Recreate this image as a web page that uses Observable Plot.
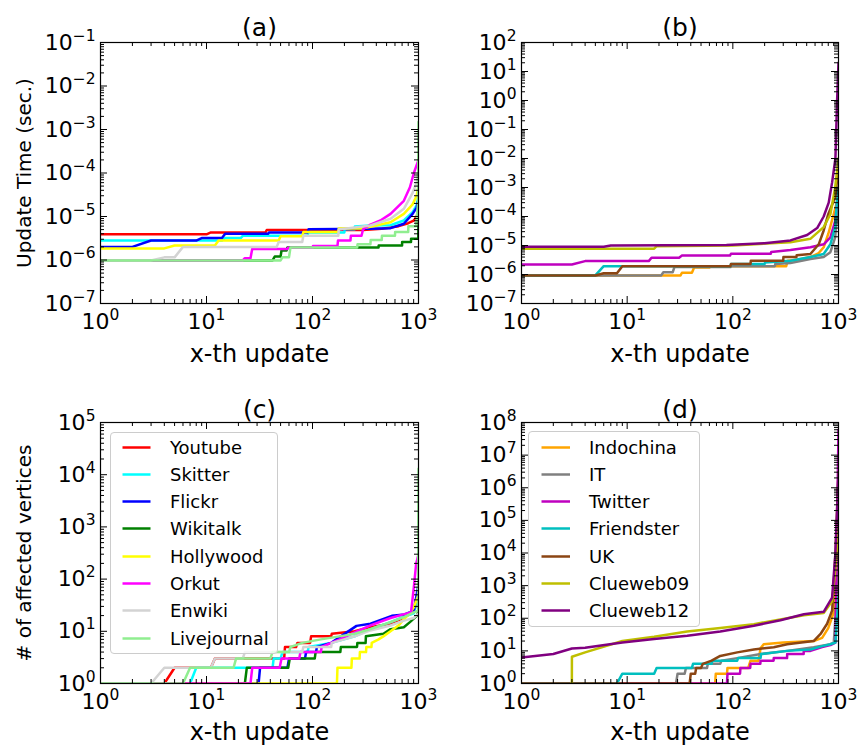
<!DOCTYPE html>
<html><head><meta charset="utf-8">
<script src="https://cdn.jsdelivr.net/npm/d3@7"></script>
<script src="https://cdn.jsdelivr.net/npm/@observablehq/plot@0.6"></script>
<style>
body{margin:0;background:#fff;}
#fig{position:relative;width:859px;height:746px;font-family:"DejaVu Sans",sans-serif;overflow:hidden;}
#fig svg.panel{position:absolute;}
.legend{position:absolute;border:1px solid #cccccc;border-radius:4px;background:rgba(255,255,255,0.8);box-sizing:border-box;font-family:"DejaVu Sans",sans-serif;font-size:18px;color:#000;}
.legend .row{position:absolute;left:0;height:27px;line-height:27px;white-space:nowrap;}
.legend .row svg{position:absolute;top:0;}
.legend .row span{position:absolute;top:0;}
</style></head>
<body><div id="fig"></div>
<script>
// ---------------- data: (a) update time, small graphs ----------------
const smallNames  = ["Youtube","Skitter","Flickr","Wikitalk","Hollywood","Orkut","Enwiki","Livejournal"];
const smallColors = ["#ff0000","#00ffff","#0000ff","#008000","#ffff00","#ff00ff","#d3d3d3","#90ee90"];
const timeYoutube = [[1,3.9e-6],[10,3.9e-6],[11,4.3e-6],[36,4.3e-6],[37,4.9e-6],[300,4.9e-6],[450,5.2e-6],[650,6e-6],[800,7e-6],[900,8e-6],[960,1e-5],[990,1.3e-5],[1000,1.8e-5]];
const timeSkitter = [[1,2.8e-6],[14,2.8e-6],[15,3.2e-6],[21,3.2e-6],[22,3.6e-6],[90,3.6e-6],[91,4.3e-6],[200,4.3e-6],[201,5.1e-6],[250,5.1e-6],[251,5.9e-6],[352,6.2e-6],[545,6.3e-6],[727,8.1e-6],[880,1.26e-5],[960,1.8e-5],[1000,3e-5]];
const timeFlickr = [[1,2.0e-6],[2,2.0e-6],[3,2.8e-6],[8,2.8e-6],[9,3.2e-6],[14,3.2e-6],[15,4.0e-6],[38,4.0e-6],[39,4.3e-6],[90,4.3e-6],[92,5.1e-6],[352,5.2e-6],[545,5.4e-6],[727,6.8e-6],[880,1.15e-5],[960,1.6e-5],[1000,2.5e-5]];
const timeWikitalk = [[1,9.8e-7],[42,9.8e-7],[44,1.2e-6],[50,1.2e-6],[51,1.65e-6],[57,1.65e-6],[58,1.95e-6],[420,1.95e-6],[421,2.15e-6],[700,2.15e-6],[701,2.6e-6],[850,2.6e-6],[851,3.1e-6],[995,3.1e-6],[1000,1e-5]];
const timeHollywood = [[1,1.85e-6],[4,1.85e-6],[5,2.15e-6],[12,2.15e-6],[13,2.8e-6],[48,2.8e-6],[50,3.5e-6],[80,3.5e-6],[82,4.4e-6],[175,4.4e-6],[177,5.3e-6],[290,5.3e-6],[352,5.8e-6],[545,7.4e-6],[727,1.15e-5],[880,1.9e-5],[960,3e-5],[1000,5e-5]];
const timeOrkut = [[1,9.8e-7],[22,9.8e-7],[23,1.1e-6],[26,1.1e-6],[27,1.8e-6],[58,1.8e-6],[59,1.9e-6],[100,1.9e-6],[101,2.1e-6],[172,2.1e-6],[174,2.8e-6],[228,2.8e-6],[230,3.6e-6],[290,3.6e-6],[300,5.1e-6],[352,6.5e-6],[437,8.1e-6],[545,1.15e-5],[727,2.3e-5],[830,4.7e-5],[904,1e-4],[1000,2e-4]];
const timeEnwiki = [[1,9.8e-7],[3,9.8e-7],[4,1.15e-6],[5,1.15e-6],[6,2.0e-6],[46,2.0e-6],[48,2.6e-6],[80,2.6e-6],[82,3.6e-6],[175,3.6e-6],[177,5e-6],[352,6.2e-6],[545,8.9e-6],[727,1.5e-5],[870,3.3e-5],[960,6e-5],[1000,1e-4]];
const timeLivejournal = [[1,9.8e-7],[50,9.8e-7],[52,1.15e-6],[60,1.15e-6],[62,1.95e-6],[264,1.95e-6],[266,2.3e-6],[352,2.3e-6],[354,2.9e-6],[450,2.9e-6],[452,3.6e-6],[600,3.6e-6],[602,4.4e-6],[800,4.4e-6],[802,6e-6],[950,6e-6],[990,2e-5],[1000,1.5e-3]];

// ---------------- data: (b) update time, large graphs ----------------
const largeNames  = ["Indochina","IT","Twitter","Friendster","UK","Clueweb09","Clueweb12"];
const largeColors = ["#ffa500","#808080","#bf00bf","#00bfbf","#8b4513","#bfbf00","#800080"];
const timeIndochina = [[1,9.3e-7],[32,9.3e-7],[33,1.15e-6],[41,1.15e-6],[43,1.75e-6],[60,1.75e-6],[62,1.94e-6],[320,1.94e-6],[330,3e-6],[400,3.2e-6],[542,4e-6],[650,5.5e-6],[724,8.7e-6],[800,2.5e-5],[901,1.2e-4],[1000,5e-4]];
const timeIT = [[1,9.3e-7],[21,9.3e-7],[22,1.2e-6],[27,1.2e-6],[28,1.8e-6],[95,1.8e-6],[96,1.94e-6],[250,1.94e-6],[252,2.3e-6],[351,2.5e-6],[542,3.4e-6],[724,4e-6],[838,5.9e-6],[930,1.9e-5],[1000,5e-4]];
const timeTwitter = [[1,2.2e-6],[3,2.2e-6],[4,2.9e-6],[16,2.9e-6],[17,3.8e-6],[31,3.8e-6],[33,4.5e-6],[94,4.5e-6],[96,5.2e-6],[228,5.2e-6],[231,6e-6],[351,7e-6],[542,8.7e-6],[724,1.1e-5],[838,1.9e-5],[930,7e-5],[1000,1e-3]];
const timeFriendster = [[1,9.3e-7],[5,9.3e-7],[6,1.94e-6],[95,1.94e-6],[96,2.3e-6],[200,2.3e-6],[202,2.6e-6],[351,3e-6],[542,4e-6],[724,5.1e-6],[838,1.1e-5],[930,4.3e-5],[970,4e-4],[1000,1e-3]];
const timeUK = [[1,9.3e-7],[5,9.3e-7],[6,1.1e-6],[8,1.1e-6],[9,1.94e-6],[95,1.94e-6],[96,2.3e-6],[147,2.3e-6],[148,3e-6],[300,3e-6],[301,4e-6],[400,4e-6],[402,4.6e-6],[542,5.1e-6],[650,1.1e-5],[724,3.3e-5],[800,1.2e-4],[930,4.6e-4],[1000,5e-3]];
const timeClueweb09 = [[1,7.8e-6],[18,7.8e-6],[19,9.5e-6],[100,1e-5],[351,1.3e-5],[542,1.7e-5],[724,4.3e-5],[838,1.2e-4],[930,1e-3],[1000,1e-2]];
const timeClueweb12 = [[1,9e-6],[6,9e-6],[7,1e-5],[87,1.05e-5],[200,1.2e-5],[351,1.5e-5],[505,2.3e-5],[628,4e-5],[724,1e-4],[808,3e-4],[870,1.5e-3],[935,1e-2],[970,1],[1000,20]];

// ---------------- data: (c) affected vertices, small graphs ----------------
const cntYoutube = [[1,1],[4,1],[5,2],[11,2],[12,3],[54,3],[55,5],[70,5],[72,6],[95,6],[97,8],[150,8],[152,9],[250,10],[350,12],[545,14],[727,18],[904,25],[1000,40]];
const cntSkitter = [[1,1],[7,1],[8,2],[42,2],[43,3],[50,3],[52,4],[90,4],[92,5],[150,6],[250,8],[352,11],[545,15],[727,19],[904,22],[1000,60]];
const cntFlickr = [[1,1],[31,1],[32,2],[58,2],[60,3],[85,3],[87,4],[108,4],[110,5],[150,6],[260,12.7],[352,14],[560,19.8],[740,21],[904,25],[1000,80]];
const cntWikitalk = [[1,1],[23,1],[24,2],[59,2],[61,3],[105,3],[107,4],[183,4],[185,5],[263,5],[265,6],[317,6],[319,8],[466,9],[545,11],[727,12],[830,15],[970,20],[1000,25]];
const cntHollywood = [[1,1],[170,1],[172,2],[233,2],[235,3],[278,3],[280,4],[320,4],[322,5],[360,5],[362,6],[420,7],[466,8],[545,10],[650,13],[727,17],[830,22],[904,29],[1000,50]];
const cntOrkut = [[1,1],[26,1],[27,2],[49,2],[51,3],[75,3],[77,4],[120,4],[122,5],[180,7],[263,10],[352,13],[545,18],[750,21.6],[850,23],[904,70],[950,196],[1000,300]];
const cntEnwiki = [[1,1],[3,1],[4,2],[11,2],[12,3],[22,3],[23,4],[80,4],[82,5],[150,5],[152,6],[250,8],[352,10.4],[545,12.9],[727,16],[904,18],[1000,22]];
const cntLivejournal = [[1,1],[6,1],[7,2],[18,2],[19,3],[40,3],[42,4],[60,4],[62,5],[80,6],[120,7],[180,8],[250,9],[352,11],[545,15],[727,18.7],[904,23],[990,25],[1000,1.3e4]];

// ---------------- data: (d) affected vertices, large graphs (0 = no vertex) ----------------
const cntIndochina = [[1,1],[68,1],[69,2],[88,2],[89,3],[140,3],[147,5],[175,5],[183,12],[196,16],[300,18],[582,20],[700,25],[800,50],[900,150],[950,1e4],[1000,1e5]];
const cntIT = [[1,1],[29,1],[30,2],[35,2],[36,3],[57,3],[58,4],[76,4],[78,5],[110,6],[183,8],[327,10],[582,13],[839,16],[902,18],[935,100],[1000,1e4]];
const cntTwitter = [[1,1],[88,1],[89,2],[117,2],[118,3],[146,3],[147,4],[182,4],[183,5],[243,5],[244,6],[326,6],[327,8],[468,8],[469,10],[543,10],[700,13],[839,15],[935,18],[1000,6e7]];
const cntFriendster = [[1,1],[8,1],[9,2],[18,2],[19,3],[41,3],[42,4],[63,4],[64,5],[110,5],[112,6],[183,6],[185,8],[327,10],[543,11],[700,14],[839,16],[935,18],[1000,500]];
const cntUK = [[1,1],[39,1],[40,2],[44,2],[45,3],[50,3],[52,4],[63,5],[76,7],[110,9],[158,11],[244,13],[327,16],[582,20],[676,33],[780,68],[871,174],[935,9000],[1000,3e6]];
const cntClueweb09 = [[1,0],[2,0],[3,6.6],[4,9],[9,20],[18,27],[37,39],[76,50],[158,66],[327,100],[470,124],[724,145],[871,340],[935,3500],[1000,6e4]];
const cntClueweb12 = [[1,6.3],[2,8],[3,11.8],[4,12.5],[9,18],[18,23],[37,29],[76,39],[158,59],[282,87],[470,133],[724,158],[870,430],[935,1e4],[1000,3e6]];

// ---------------- axis / text ----------------
const xExps = [0,1,2,3];
const yExpsA = [-7,-6,-5,-4,-3,-2,-1];
const yExpsB = [-7,-6,-5,-4,-3,-2,-1,0,1,2];
const yExpsC = [0,1,2,3,4,5];
const yExpsD = [0,1,2,3,4,5,6,7,8];
const panelTitles = ["(a)","(b)","(c)","(d)"];
const xLabel = "x-th update";
const yLabelTime = "Update Time (sec.)";
const yLabelCount = "# of affected vertices";

function pow10Label(v){return "10^"+Math.round(Math.log10(v));}
function majors(exps){return exps.map(e=>Math.pow(10,e));}
function minors(exps){const out=[];for(let i=0;i<exps.length-1;i++){for(let m=2;m<=9;m++)out.push(m*Math.pow(10,exps[i]));}return out;}

const fig = document.getElementById("fig");
const SVGNS = "http://www.w3.org/2000/svg";

function superscriptLabels(svg){
  svg.querySelectorAll("text").forEach(t=>{
    const m = /^10\^(-?\d+)$/.exec(t.textContent);
    if (!m) return;
    t.textContent = "10";
    const ts = document.createElementNS(SVGNS,"tspan");
    ts.setAttribute("dy","-9");
    ts.setAttribute("font-size","15.5");
    ts.textContent = m[1].replace("-","\u2212");
    t.appendChild(ts);
  });
}

function panel(cfg){
  const H = 373;
  const fw = cfg.width - cfg.ml - cfg.mr, fh = H - cfg.mt - cfg.mb;
  const rows = [];
  cfg.series.forEach((arr,i)=>arr.forEach(([x,y])=>rows.push({name:cfg.names[i], x, y: y>0 ? y : 1e-300})));
  const xMaj = majors(xExps), xMin = minors(xExps);
  const yMaj = majors(cfg.yExps), yMin = minors(cfg.yExps);
  const tk = {stroke:"#000", strokeWidth:1};
  const marks = [
    Plot.line(rows,{x:"x",y:"y",z:"name",stroke:"name",strokeWidth:2.5,strokeLinejoin:"round",clip:true}),
    Plot.ruleX(xMaj,{x:d=>d,insetTop:fh-7,...tk}),
    Plot.ruleX(xMaj,{x:d=>d,insetBottom:fh-7,...tk}),
    Plot.ruleX(xMin,{x:d=>d,insetTop:fh-4,...tk}),
    Plot.ruleX(xMin,{x:d=>d,insetBottom:fh-4,...tk}),
    Plot.ruleY(yMaj,{y:d=>d,insetRight:fw-7,...tk}),
    Plot.ruleY(yMaj,{y:d=>d,insetLeft:fw-7,...tk}),
    Plot.ruleY(yMin,{y:d=>d,insetRight:fw-4,...tk}),
    Plot.ruleY(yMin,{y:d=>d,insetLeft:fw-4,...tk}),
    Plot.frame({stroke:"#000",strokeWidth:1.2}),
    Plot.axisX({ticks:xMaj,tickFormat:pow10Label,tickSize:0,tickPadding:10,fontSize:22,label:null,anchor:"bottom"}),
    Plot.axisY({ticks:yMaj,tickFormat:pow10Label,tickSize:0,tickPadding:5,fontSize:22,label:null,anchor:"left"}),
    Plot.text([cfg.title],{text:d=>d,frameAnchor:"top",lineAnchor:"middle",textAnchor:"middle",dy:cfg.titleDy,fontSize:25}),
    Plot.text([xLabel],{text:d=>d,frameAnchor:"bottom",lineAnchor:"middle",textAnchor:"middle",dy:cfg.xlabDy,fontSize:24})
  ];
  if (cfg.ylabel) marks.push(Plot.text([cfg.ylabel],{text:d=>d,frameAnchor:"left",lineAnchor:"middle",textAnchor:"middle",rotate:-90,dx:24-cfg.ml,fontSize:20}));
  const svg = Plot.plot({
    width:cfg.width, height:H,
    marginLeft:cfg.ml, marginRight:cfg.mr, marginTop:cfg.mt, marginBottom:cfg.mb,
    x:{type:"log",domain:[xMaj[0],xMaj[xMaj.length-1]]},
    y:{type:"log",domain:[yMaj[0],yMaj[yMaj.length-1]]},
    color:{domain:cfg.names,range:cfg.colors},
    style:{fontFamily:"DejaVu Sans",fontSize:"22px",overflow:"visible",background:"transparent",color:"#000"},
    marks
  });
  superscriptLabels(svg);
  svg.classList.add("panel");
  svg.style.left = cfg.left+"px";
  svg.style.top = cfg.top+"px";
  fig.appendChild(svg);
}

function legend(names, colors, box){
  const div = document.createElement("div");
  div.className = "legend";
  Object.assign(div.style,{left:box.left+"px",top:box.top+"px",width:box.width+"px",height:box.height+"px"});
  names.forEach((n,i)=>{
    const row = document.createElement("div");
    row.className = "row";
    row.style.top = (box.first - 13.5 + 27.3*i)+"px";
    row.style.width = box.width+"px";
    row.innerHTML = `<svg width="${box.lineX2+2}" height="27" style="left:0"><line x1="${box.lineX1}" x2="${box.lineX2}" y1="13.5" y2="13.5" stroke="${colors[i]}" stroke-width="2.5"/></svg><span style="left:${box.textX}px">${n}</span>`;
    div.appendChild(row);
  });
  fig.appendChild(div);
}

panel({left:0,top:0,width:430,ml:100,mr:12,mt:42,mb:70,yExps:yExpsA,names:smallNames,colors:smallColors,
  series:[timeYoutube,timeSkitter,timeFlickr,timeWikitalk,timeHollywood,timeOrkut,timeEnwiki,timeLivejournal],
  title:panelTitles[0],titleDy:-15,xlabDy:51,ylabel:yLabelTime});
panel({left:430,top:0,width:429,ml:91,mr:21,mt:42,mb:70,yExps:yExpsB,names:largeNames,colors:largeColors,
  series:[timeIndochina,timeIT,timeTwitter,timeFriendster,timeUK,timeClueweb09,timeClueweb12],
  title:panelTitles[1],titleDy:-15,xlabDy:51,ylabel:null});
panel({left:0,top:373,width:430,ml:100,mr:12,mt:49,mb:63,yExps:yExpsC,names:smallNames,colors:smallColors,
  series:[cntYoutube,cntSkitter,cntFlickr,cntWikitalk,cntHollywood,cntOrkut,cntEnwiki,cntLivejournal],
  title:panelTitles[2],titleDy:-13,xlabDy:49,ylabel:yLabelCount});
panel({left:430,top:373,width:429,ml:91,mr:21,mt:49,mb:63,yExps:yExpsD,names:largeNames,colors:largeColors,
  series:[cntIndochina,cntIT,cntTwitter,cntFriendster,cntUK,cntClueweb09,cntClueweb12],
  title:panelTitles[3],titleDy:-13,xlabDy:49,ylabel:null});

legend(smallNames, smallColors, {left:110,top:432,width:168,height:222,first:14,lineX1:11.5,lineX2:39.5,textX:59});
legend(largeNames, largeColors, {left:528,top:431,width:172,height:196,first:15,lineX1:12.5,lineX2:41,textX:60});
</script></body></html>
